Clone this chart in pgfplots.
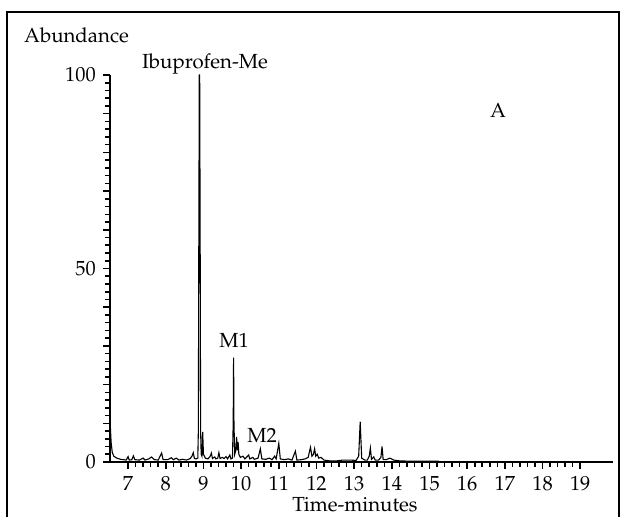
\documentclass[border=0pt]{standalone}
\usepackage[T1]{fontenc}
\usepackage{mathpazo}
\usepackage{pgfplots}
\pgfplotsset{compat=1.18}
\begin{document}
\fontsize{10.2}{12}\selectfont
\begin{tikzpicture}
\begin{scope}[x=0.5pt,y=-0.5pt]
\useasboundingbox (0,0) rectangle (624,517);
\draw[line width=1pt] (7,540) -- (7,12) -- (619,12) -- (619,540);
\end{scope}
\begin{axis}[
  at={(55pt,-231pt)}, anchor=south west,
  scale only axis, width=251.5pt, height=193.5pt,
  xmin=6.52, xmax=19.87, ymin=0, ymax=100,
  axis lines=left,
  axis line style={line width=0.65pt, -},
  xtick={7,8,...,19}, minor x tick num=4,
  ytick={0,10,...,100}, yticklabels={0,,,,,50,,,,,100}, minor y tick num=4,
  tick align=outside,
  major tick length=3.5pt, minor tick length=2.5pt,
  tick style={black, line width=0.8pt},
  clip=false,
  tick label style={font=\fontsize{10.2}{12}\selectfont},
]
\addplot[black, line width=0.55pt] coordinates {
(6.53,9.0) (6.55,5.0) (6.58,2.5) (6.62,1.5) (6.70,1.0) (6.80,0.7) (6.95,0.5)
(7.00,1.4) (7.03,0.5) (7.10,0.6) (7.14,1.6) (7.18,0.6) (7.30,0.5) (7.40,1.0)
(7.45,0.5) (7.55,0.8) (7.62,1.3) (7.70,0.6) (7.80,0.5) (7.89,2.3) (7.93,0.6)
(8.05,0.6) (8.15,1.1) (8.20,0.6) (8.28,1.0) (8.35,0.5) (8.45,0.7) (8.55,0.5)
(8.65,0.9) (8.70,1.6) (8.73,2.4) (8.76,0.9) (8.80,0.8) (8.85,1.0) (8.865,8)
(8.875,50) (8.89,100) (8.90,100) (8.915,50) (8.925,8) (8.94,2.0) (8.96,1.5) (8.98,7.8)
(9.00,2.0) (9.05,1.0) (9.12,0.8) (9.18,1.5) (9.21,2.3) (9.24,0.9) (9.30,1.3)
(9.33,0.8) (9.38,1.0) (9.41,2.4) (9.44,0.9) (9.50,1.2) (9.55,0.9) (9.60,1.4)
(9.64,0.8) (9.70,1.8) (9.73,0.8) (9.77,1.0) (9.79,10) (9.80,27) (9.81,10)
(9.83,2.0) (9.86,3.0) (9.88,6.5) (9.90,3.0) (9.92,5.2) (9.94,2.0) (9.98,1.2)
(10.05,1.5) (10.10,0.8) (10.20,1.8) (10.23,0.8) (10.31,1.2) (10.35,0.7)
(10.45,1.0) (10.51,3.4) (10.55,0.8) (10.65,0.7) (10.75,1.0) (10.82,0.6)
(10.89,1.5) (10.93,0.8) (11.00,4.8) (11.04,0.8) (11.15,0.6) (11.25,0.8)
(11.35,0.5) (11.44,2.8) (11.48,0.5) (11.60,0.6) (11.70,0.8) (11.78,1.2)
(11.84,3.8) (11.88,1.5) (11.92,2.0) (11.95,3.4) (11.98,1.5) (12.02,2.0)
(12.06,1.0) (12.12,1.2) (12.20,0.5) (12.35,0.3) (12.55,0.3) (12.70,0.5)
(12.90,0.5) (13.05,0.4) (13.12,1.5) (13.16,10.4) (13.20,1.0) (13.28,0.5)
(13.35,0.5) (13.40,1.5) (13.43,3.6) (13.46,0.7) (13.52,1.3) (13.56,0.5)
(13.65,0.5) (13.71,1.2) (13.74,4.0) (13.77,0.6) (13.85,0.6) (13.95,1.0)
(14.05,0.5) (14.20,0.3) (14.50,0.2) (15.00,0.2) (15.25,0.2)
};
\end{axis}
\begin{scope}[x=0.5pt,y=-0.5pt]
\node[anchor=base, inner sep=0pt] at (76.5,43) {Abundance};
\node[anchor=base, inner sep=0pt] at (205,69) {Ibuprofen-Me};
\node[anchor=base, inner sep=0pt] at (498,118) {A};
\node[anchor=base, inner sep=0pt] at (234,347) {M1};
\node[anchor=base, inner sep=0pt] at (262,442) {M2};
\node[anchor=base, inner sep=0pt] at (355,511) {Time-minutes};
\end{scope}
\end{tikzpicture}
\end{document}
